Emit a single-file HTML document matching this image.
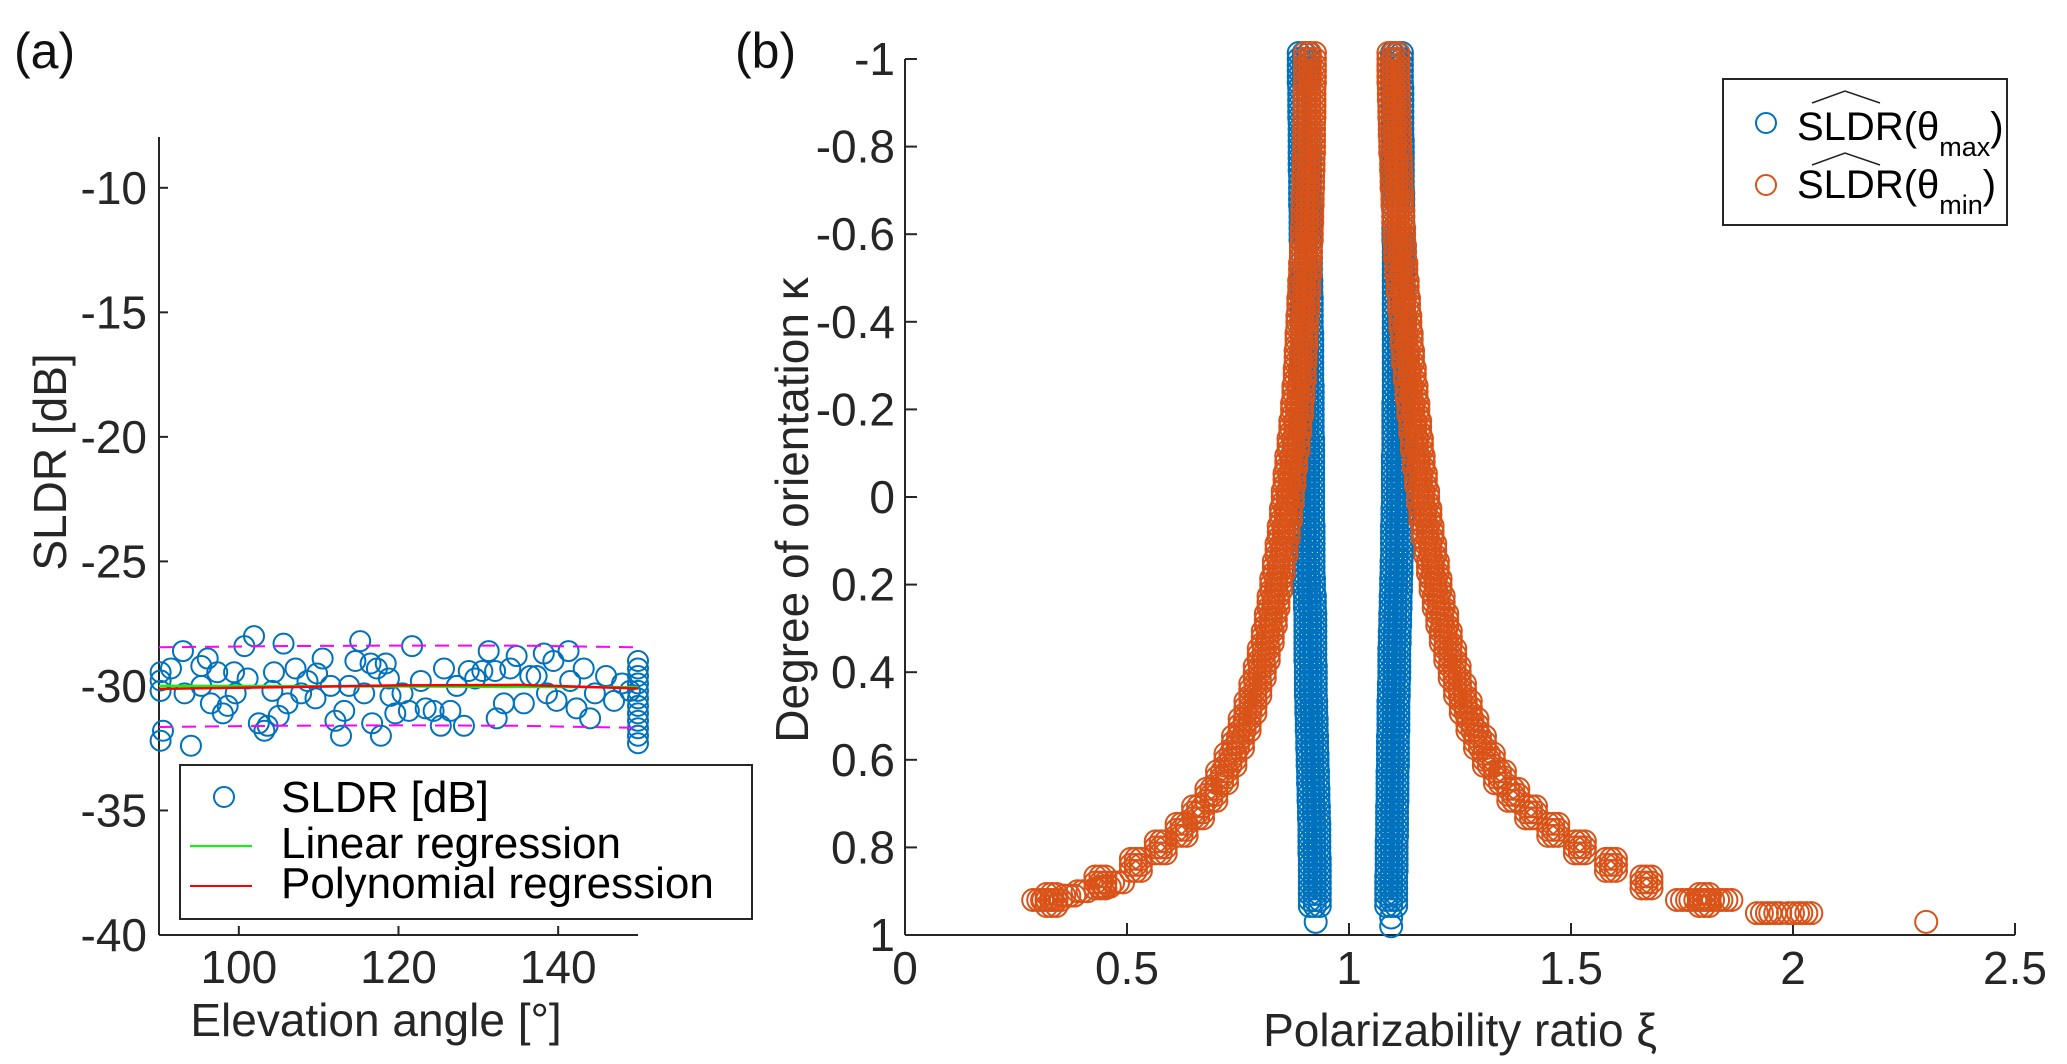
<!DOCTYPE html>
<html><head><meta charset="utf-8"><style>
html,body{margin:0;padding:0;background:#fff;}
svg{display:block;font-family:"Liberation Sans",sans-serif;}
</style></head><body>
<svg id="fig" width="2067" height="1064" viewBox="0 0 2067 1064" xmlns="http://www.w3.org/2000/svg">
<rect x="0" y="0" width="2067" height="1064" fill="#fff"/>
<text x="14" y="68" font-size="50" fill="#111">(a)</text>
<text x="735" y="68" font-size="50" fill="#111">(b)</text>
<g id="pa"></g>
<g id="pb"></g>
</svg>
<script>
// ---- Panel (a) data ----
const elevA = [90.2,90.2,90.2,90.5,90.2,93.0,91.5,94.0,95.3,96.1,97.3,95.3,93.2,96.5,98.0,98.6,99.4,100.7,101.9,101.1,99.6,102.5,103.2,103.6,104.4,105.6,105.0,104.2,107.1,107.8,106.1,108.6,109.8,110.5,109.6,112.1,112.8,113.2,111.5,113.8,114.6,115.2,115.7,116.5,117.3,116.7,117.8,118.4,118.8,119.0,119.6,120.5,121.7,121.3,122.8,123.4,124.4,125.3,125.7,126.5,127.3,128.2,128.8,129.6,130.5,131.3,132.1,132.3,133.2,134.0,134.8,135.7,136.5,137.3,138.2,138.6,139.4,139.8,141.3,141.5,142.3,143.2,144.0,144.6,146,147,148,149,150,150,150,150,150,150,150,150,150,150,150,150];
const sldrA = [-29.45,-29.78,-30.2,-31.8,-32.2,-28.6,-29.3,-32.4,-29.2,-28.9,-29.45,-30.0,-30.3,-30.7,-31.1,-30.8,-29.45,-28.4,-28.0,-29.7,-30.3,-31.5,-31.8,-31.6,-29.45,-28.3,-31.2,-30.2,-29.3,-30.3,-30.7,-29.8,-29.5,-28.9,-30.5,-31.4,-32.0,-31.0,-30.0,-30.0,-29.0,-28.2,-30.3,-29.1,-29.3,-31.5,-32.0,-29.1,-29.7,-30.4,-31.1,-30.3,-28.4,-31.0,-29.8,-30.9,-31.0,-31.6,-29.3,-31.0,-30.0,-31.6,-29.4,-29.7,-29.4,-28.6,-29.4,-31.3,-30.7,-29.3,-28.8,-30.7,-29.6,-29.6,-28.7,-30.3,-29.0,-30.6,-28.6,-29.8,-30.9,-29.3,-31.3,-30.3,-29.6,-30.6,-29.9,-30.2,-29.0,-29.3,-29.6,-29.9,-30.2,-30.5,-30.8,-31.1,-31.4,-31.7,-32.0,-32.3];
const fitX = [90,105,120,135,150];
const linFit = [-30.0,-30.01,-30.02,-30.04,-30.05];
const polyFit = [-30.12,-30.05,-29.98,-29.96,-30.1];
const boundUp = [-28.45,-28.4,-28.38,-28.38,-28.45];
const boundLo = [-31.65,-31.6,-31.58,-31.6,-31.68];
const xTicksA = [100,120,140];
const yTicksA = [-10,-15,-20,-25,-30,-35,-40];

// ---- Panel (b) data ----
const kappaLevels = [-1,-0.96,-0.92,-0.88,-0.84,-0.8,-0.76,-0.72,-0.68,-0.64,-0.6,-0.56,-0.52,-0.48,-0.44,-0.4,-0.36,-0.32,-0.28,-0.24,-0.2,-0.16,-0.12,-0.08,-0.04,0,0.04,0.08,0.12,0.16,0.2,0.24,0.28,0.32,0.36,0.4,0.44,0.48,0.52,0.56,0.6,0.64,0.68,0.72,0.76,0.8,0.84,0.88,0.92];
const xiMinLeft = [0.912,0.912,0.911,0.911,0.910,0.910,0.909,0.908,0.907,0.906,0.905,0.903,0.901,0.899,0.897,0.895,0.893,0.891,0.889,0.886,0.883,0.879,0.875,0.870,0.866,0.862,0.858,0.853,0.848,0.842,0.836,0.830,0.824,0.817,0.808,0.799,0.789,0.778,0.765,0.750,0.733,0.714,0.690,0.660,0.623,0.576,0.52,0.44,0.33];
const xiMinRight = [1.100,1.100,1.101,1.102,1.103,1.104,1.106,1.107,1.109,1.111,1.113,1.115,1.118,1.121,1.124,1.127,1.130,1.133,1.137,1.141,1.145,1.149,1.153,1.157,1.162,1.167,1.172,1.177,1.183,1.189,1.195,1.202,1.210,1.218,1.228,1.238,1.250,1.263,1.278,1.295,1.315,1.34,1.37,1.41,1.46,1.52,1.59,1.67,1.80];
const xiMaxLeft = [0.898,0.898,0.899,0.899,0.9,0.9,0.9,0.901,0.901,0.902,0.902,0.903,0.903,0.904,0.905,0.905,0.906,0.906,0.906,0.907,0.907,0.907,0.908,0.908,0.908,0.908,0.908,0.909,0.909,0.909,0.91,0.912,0.913,0.913,0.913,0.914,0.914,0.915,0.916,0.917,0.918,0.919,0.92,0.921,0.922,0.922,0.923,0.923,0.923];
const xiMaxRight = [1.108,1.108,1.109,1.109,1.109,1.11,1.11,1.11,1.111,1.111,1.111,1.112,1.112,1.112,1.112,1.112,1.112,1.112,1.112,1.112,1.111,1.111,1.111,1.11,1.11,1.11,1.109,1.108,1.108,1.107,1.106,1.105,1.104,1.103,1.102,1.102,1.101,1.1,1.1,1.099,1.099,1.098,1.098,1.097,1.097,1.096,1.096,1.095,1.095];
const extraMinXi = [0.30,0.32,0.34,0.37,0.40,0.45,0.48,1.75,1.78,1.82,1.85,1.93,1.96,2.0,2.03,2.3];
const extraMinK = [0.92,0.92,0.92,0.91,0.90,0.89,0.88,0.92,0.92,0.92,0.92,0.95,0.95,0.95,0.95,0.97];
const extraMaxXi = [0.925,1.095,1.095];
const extraMaxK = [0.97,0.96,0.98];
const xTicksB = [0,0.5,1,1.5,2,2.5];
const yTicksB = [-1,-0.8,-0.6,-0.4,-0.2,0,0.2,0.4,0.6,0.8,1];

const NS = "http://www.w3.org/2000/svg";
function mk(tag, attrs, parent){const e=document.createElementNS(NS,tag);for(const k in attrs)e.setAttribute(k,attrs[k]);parent.appendChild(e);return e;}
const AX="#262626";

// ===== Panel A =====
const pa=document.getElementById('pa');
const axA={x0:159,x1:638,y0:137,y1:935,xmin:90,xmax:150,ymin:-40,ymax:-7.96};
const xA=v=>axA.x0+(v-axA.xmin)/(axA.xmax-axA.xmin)*(axA.x1-axA.x0);
const yA=v=>axA.y1-(v-axA.ymin)/(axA.ymax-axA.ymin)*(axA.y1-axA.y0);
let e;
e=mk('line',{x1:axA.x0,y1:axA.y0,x2:axA.x0,y2:axA.y1,stroke:AX,'stroke-width':2},pa);


e=mk('line',{x1:axA.x0,y1:axA.y1,x2:axA.x1,y2:axA.y1,stroke:AX,'stroke-width':2},pa);


yTicksA.forEach(v=>{
  const y=yA(v);
  e=mk('line',{x1:axA.x0,y1:y,x2:axA.x0+9,y2:y,stroke:AX,'stroke-width':2},pa);
  
  
  e=mk('text',{x:147,y:y+16,'text-anchor':'end','font-size':46,fill:AX},pa);
  e.textContent=String(v);
  
  
});
xTicksA.forEach(v=>{
  const x=xA(v);
  e=mk('line',{x1:x,y1:axA.y1,x2:x,y2:axA.y1-9,stroke:AX,'stroke-width':2},pa);
  
  
  e=mk('text',{x:x,y:983,'text-anchor':'middle','font-size':46,fill:AX},pa);
  e.textContent=String(v);
  
  
});
e=mk('text',{x:376,y:1036,'text-anchor':'middle','font-size':46,fill:AX},pa);
e.textContent='Elevation angle [°]';


e=mk('text',{x:0,y:0,'text-anchor':'middle','font-size':46,fill:AX,transform:'translate(66,462) rotate(-90)'},pa);
e.textContent='SLDR [dB]';


for(let i=0;i<elevA.length;i++){
  e=mk('circle',{cx:xA(elevA[i]),cy:yA(sldrA[i]),r:10,fill:'none',stroke:'#0072BD','stroke-width':2},pa);
  
  
}
function pathA(arr){return fitX.map((x,i)=>(i?'L':'M')+xA(x).toFixed(1)+','+yA(arr[i]).toFixed(1)).join(' ');}
e=mk('path',{d:pathA(boundUp),fill:'none',stroke:'#FF00FF','stroke-width':2,'stroke-dasharray':'14,9'},pa);


e=mk('path',{d:pathA(boundLo),fill:'none',stroke:'#FF00FF','stroke-width':2,'stroke-dasharray':'14,9'},pa);


e=mk('path',{d:pathA(linFit),fill:'none',stroke:'#00FF00','stroke-width':2.5},pa);


e=mk('path',{d:pathA(polyFit),fill:'none',stroke:'#FF0000','stroke-width':2.5},pa);


const lgA=mk('g',{},pa);


mk('rect',{x:180,y:765,width:572,height:154,fill:'#fff',stroke:AX,'stroke-width':2},lgA);
e=mk('circle',{cx:224,cy:797,r:10,fill:'none',stroke:'#0072BD','stroke-width':2},lgA);


e=mk('text',{x:281,y:812,'font-size':44,fill:'#000'},lgA);
e.textContent='SLDR [dB]';


mk('line',{x1:190,y1:846,x2:252,y2:846,stroke:'#00FF00','stroke-width':2},lgA);
e=mk('text',{x:281,y:858,'font-size':44,fill:'#000'},lgA);
e.textContent='Linear regression';


mk('line',{x1:190,y1:886,x2:252,y2:886,stroke:'#FF0000','stroke-width':2},lgA);
e=mk('text',{x:281,y:898,'font-size':44,fill:'#000'},lgA);
e.textContent='Polynomial regression';



// ===== Panel B =====
const pb=document.getElementById('pb');
const axB={x0:905,x1:2015,y0:59,y1:935,xmin:0,xmax:2.5};
const xB=v=>axB.x0+(v-axB.xmin)/(axB.xmax-axB.xmin)*(axB.x1-axB.x0);
const yB=v=>axB.y0+(v+1)/2*(axB.y1-axB.y0);
e=mk('line',{x1:axB.x0,y1:axB.y0,x2:axB.x0,y2:axB.y1,stroke:AX,'stroke-width':2},pb);


e=mk('line',{x1:axB.x0,y1:axB.y1,x2:axB.x1,y2:axB.y1,stroke:AX,'stroke-width':2},pb);


yTicksB.forEach(v=>{
  const y=yB(v);
  e=mk('line',{x1:axB.x0,y1:y,x2:axB.x0+12,y2:y,stroke:AX,'stroke-width':2},pb);
  
  
  e=mk('text',{x:895,y:y+16,'text-anchor':'end','font-size':46,fill:AX},pb);
  e.textContent=String(v);
  
  
});
xTicksB.forEach(v=>{
  const x=xB(v);
  e=mk('line',{x1:x,y1:axB.y1,x2:x,y2:axB.y1-12,stroke:AX,'stroke-width':2},pb);
  
  
  e=mk('text',{x:x,y:984,'text-anchor':'middle','font-size':46,fill:AX},pb);
  e.textContent=String(v);
  
  
});
e=mk('text',{x:1460,y:1046,'text-anchor':'middle','font-size':46,fill:AX},pb);
e.textContent='Polarizability ratio ξ';


e=mk('text',{x:0,y:0,'text-anchor':'middle','font-size':46,fill:AX,transform:'translate(808,510) rotate(-90)'},pb);
e.textContent='Degree of orientation κ';


// each data point rendered as a small cluster of overlapping circles (marker density, styling only)
function pt(xi,k,col,name,dxs,dys){
  const g=mk('g',{},pb);
  
  
  const cx=xB(xi), cy=yB(k);
  dxs.forEach(dx=>dys.forEach(dy=>{
    mk('circle',{cx:cx+dx,cy:cy+dy,r:11,fill:'none',stroke:col,'stroke-width':2},g);
  }));
}
const BLUE='#0072BD',ORG='#D95319';
const D3=[-5,0,5], DY3=[-6,0,6], D0=[0];
for(let i=0;i<kappaLevels.length;i++){pt(xiMaxLeft[i],kappaLevels[i],BLUE,'sldr-max-point',D3,DY3);pt(xiMaxRight[i],kappaLevels[i],BLUE,'sldr-max-point',D3,DY3);}
for(let i=0;i<extraMaxXi.length;i++){pt(extraMaxXi[i],extraMaxK[i],BLUE,'sldr-max-point',D0,D0);}
for(let i=0;i<kappaLevels.length;i++){pt(xiMinLeft[i],kappaLevels[i],ORG,'sldr-min-point',D3,DY3);pt(xiMinRight[i],kappaLevels[i],ORG,'sldr-min-point',D3,DY3);}
for(let i=0;i<extraMinXi.length;i++){pt(extraMinXi[i],extraMinK[i],ORG,'sldr-min-point',extraMinK[i]>0.96?D0:D3,D0);}
const lgB=mk('g',{},pb);


mk('rect',{x:1723,y:79,width:284,height:146,fill:'#fff',stroke:AX,'stroke-width':2},lgB);
e=mk('circle',{cx:1766,cy:123,r:10,fill:'none',stroke:BLUE,'stroke-width':2},lgB);


e=mk('circle',{cx:1766,cy:185,r:10,fill:'none',stroke:ORG,'stroke-width':2},lgB);


mk('polyline',{points:'1812,103 1845,91 1880,103',fill:'none',stroke:'#222','stroke-width':1.5},lgB);
mk('polyline',{points:'1812,165 1845,153 1880,165',fill:'none',stroke:'#222','stroke-width':1.5},lgB);
e=mk('text',{x:1797,y:140,'font-size':40,fill:'#000'},lgB);
e.innerHTML='SLDR(θ<tspan font-size="27" dy="16">max</tspan><tspan dy="-16">)</tspan>';


e=mk('text',{x:1797,y:198,'font-size':40,fill:'#000'},lgB);
e.innerHTML='SLDR(θ<tspan font-size="27" dy="16">min</tspan><tspan dy="-16">)</tspan>';


</script>
</body></html>
